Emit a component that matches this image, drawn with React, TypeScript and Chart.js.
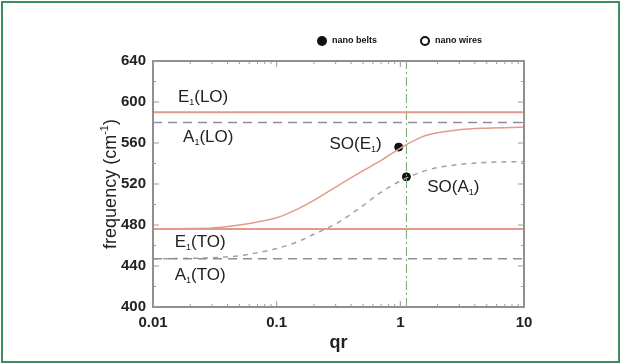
import React, { useEffect, useRef } from 'react';
import { Chart, registerables } from 'chart.js';

Chart.register(...registerables);

// Reduced wave vector qr sampled along the surface-optical phonon curves
const QR = [0.01, 0.02, 0.03, 0.05, 0.07, 0.1, 0.15, 0.2, 0.3, 0.5, 0.7, 1, 1.5, 2, 3, 5, 10];
// SO(E1) branch, cm-1
const SO_E1 = [476, 476.5, 477, 480, 483, 487, 496, 504, 517, 533, 543, 555, 566, 570, 573, 574.5, 575.5];
// SO(A1) branch, cm-1
const SO_A1 = [447, 447.5, 448, 450, 453, 457, 464, 471, 481, 499, 512, 523, 532, 536, 539, 541, 542];

// Bulk phonon frequencies, cm-1
const E1_LO = 590;
const A1_LO = 580;
const E1_TO = 476;
const A1_TO = 447;

// Measured SO modes
const BELT_QR = [0.97];
const BELT_FREQ = [556];
const WIRE_QR = [1.12];
const WIRE_FREQ = [527];

// Vertical guide at qr of the wires
const GUIDE_QR = 1.12;

const X_TICKS = [0.01, 0.1, 1, 10];
const X_TICK_LABELS = ['0.01', '0.1', '1', '10'];
const Y_MIN = 400;
const Y_MAX = 640;
const Y_STEP = 40;

const FONT = '"Liberation Sans", Arial, Helvetica, sans-serif';
const SALMON = '#e49a8a';
const GREY_DASH = '#8e8e96';
const AXIS = '#8f8f8f';

type Label = { main: string; sub: string; rest: string; qr: number; freq: number };
const MODE_LABELS: Label[] = [
  { main: 'E', sub: '1', rest: '(LO)', qr: 0.0159, freq: 605 },
  { main: 'A', sub: '1', rest: '(LO)', qr: 0.0175, freq: 566 },
  { main: 'SO(E', sub: '1', rest: ')', qr: 0.267, freq: 559 },
  { main: 'SO(A', sub: '1', rest: ')', qr: 1.65, freq: 517 },
  { main: 'E', sub: '1', rest: '(TO)', qr: 0.015, freq: 463.5 },
  { main: 'A', sub: '1', rest: '(TO)', qr: 0.015, freq: 431 },
];

function drawSubText(ctx: CanvasRenderingContext2D, x: number, y: number, l: Label, size: number) {
  ctx.textBaseline = 'middle';
  ctx.textAlign = 'left';
  ctx.font = `${size}px ${FONT}`;
  ctx.fillText(l.main, x, y);
  let cx = x + ctx.measureText(l.main).width;
  ctx.font = `${Math.round(size * 0.55)}px ${FONT}`;
  ctx.fillText(l.sub, cx, y + size * 0.32);
  cx += ctx.measureText(l.sub).width;
  ctx.font = `${size}px ${FONT}`;
  ctx.fillText(l.rest, cx, y);
}

const decorPlugin = {
  id: 'decor',
  beforeDraw(chart: any) {
    const ctx = chart.ctx;
    ctx.save();
    ctx.fillStyle = '#ffffff';
    ctx.fillRect(0, 0, chart.width, chart.height);
    ctx.restore();
  },
  afterDraw(chart: any) {
    const ctx: CanvasRenderingContext2D = chart.ctx;
    const { left, right, top, bottom } = chart.chartArea;
    const xs = chart.scales.x;
    const ys = chart.scales.y;
    ctx.save();

    // frame
    ctx.strokeStyle = AXIS;
    ctx.lineWidth = 2;
    ctx.strokeRect(left, top, right - left, bottom - top);

    // inward tick marks on all four sides
    ctx.lineWidth = 1;
    ctx.strokeStyle = '#9a9a9a';
    for (let d = -2; d <= 1; d++) {
      for (let k = 1; k <= 9; k++) {
        const v = k * Math.pow(10, d);
        if (v > 10.0001) continue;
        const px = xs.getPixelForValue(v);
        const len = k === 1 ? 6 : 3;
        ctx.beginPath();
        ctx.moveTo(px, bottom);
        ctx.lineTo(px, bottom - len);
        ctx.moveTo(px, top);
        ctx.lineTo(px, top + len);
        ctx.stroke();
      }
    }
    for (let v = Y_MIN; v <= Y_MAX; v += Y_STEP / 2) {
      const py = ys.getPixelForValue(v);
      const len = (v - Y_MIN) % Y_STEP === 0 ? 6 : 3;
      ctx.beginPath();
      ctx.moveTo(left, py);
      ctx.lineTo(left + len, py);
      ctx.moveTo(right, py);
      ctx.lineTo(right - len, py);
      ctx.stroke();
    }

    // mode labels
    ctx.fillStyle = '#222222';
    for (const l of MODE_LABELS) {
      drawSubText(ctx, xs.getPixelForValue(l.qr), ys.getPixelForValue(l.freq), l, 17);
    }

    // axis titles
    ctx.fillStyle = '#222222';
    ctx.textAlign = 'center';
    ctx.textBaseline = 'middle';
    ctx.font = `bold 18px ${FONT}`;
    ctx.fillText('qr', (left + right) / 2, 343);

    ctx.save();
    ctx.translate(111, (top + bottom) / 2);
    ctx.rotate(-Math.PI / 2);
    const big = `18px ${FONT}`;
    const small = `11px ${FONT}`;
    const t1 = 'frequency (cm';
    const t2 = '-1';
    const t3 = ')';
    ctx.font = big;
    const w1 = ctx.measureText(t1).width;
    const w3 = ctx.measureText(t3).width;
    ctx.font = small;
    const w2 = ctx.measureText(t2).width;
    const total = w1 + w2 + w3;
    ctx.textAlign = 'left';
    let cx = -total / 2;
    ctx.font = big;
    ctx.fillText(t1, cx, 0);
    cx += w1;
    ctx.font = small;
    ctx.fillText(t2, cx, -6);
    cx += w2;
    ctx.font = big;
    ctx.fillText(t3, cx, 0);
    ctx.restore();

    // legend
    ctx.fillStyle = '#111111';
    ctx.beginPath();
    ctx.arc(322, 41, 5, 0, Math.PI * 2);
    ctx.fill();
    ctx.strokeStyle = '#111111';
    ctx.lineWidth = 2;
    ctx.beginPath();
    ctx.arc(425, 41, 4, 0, Math.PI * 2);
    ctx.stroke();
    ctx.font = `bold 9px ${FONT}`;
    ctx.textAlign = 'left';
    ctx.textBaseline = 'middle';
    ctx.fillText('nano belts', 332, 41);
    ctx.fillText('nano wires', 435, 41);

    // outer border
    ctx.strokeStyle = '#3f8b62';
    ctx.lineWidth = 2;
    ctx.strokeRect(2, 2, chart.width - 4, chart.height - 4);

    ctx.restore();
  },
};

function hLine(y: number) {
  return [{ x: X_TICKS[0], y }, { x: X_TICKS[X_TICKS.length - 1], y }];
}

export default function App() {
  const canvasRef = useRef<HTMLCanvasElement | null>(null);

  useEffect(() => {
    const canvas = canvasRef.current;
    if (!canvas) return;
    const flat = { pointRadius: 0, pointHoverRadius: 0, fill: false };
    const chart = new Chart(canvas, {
      type: 'line',
      data: {
        datasets: [
          { ...flat, data: hLine(E1_LO), borderColor: SALMON, borderWidth: 2 },
          { ...flat, data: hLine(A1_LO), borderColor: GREY_DASH, borderWidth: 1.5, borderDash: [9, 6] },
          { ...flat, data: hLine(E1_TO), borderColor: SALMON, borderWidth: 2 },
          { ...flat, data: hLine(A1_TO), borderColor: GREY_DASH, borderWidth: 1.5, borderDash: [9, 6] },
          {
            ...flat,
            data: QR.map((q, i) => ({ x: q, y: SO_E1[i] })),
            borderColor: SALMON,
            borderWidth: 1.5,
            cubicInterpolationMode: 'monotone',
          },
          {
            ...flat,
            data: QR.map((q, i) => ({ x: q, y: SO_A1[i] })),
            borderColor: '#a0a0a6',
            borderWidth: 1.5,
            borderDash: [5, 5],
            cubicInterpolationMode: 'monotone',
          },
          {
            ...flat,
            data: [{ x: GUIDE_QR, y: Y_MIN }, { x: GUIDE_QR, y: Y_MAX }],
            borderColor: '#6aa86e',
            borderWidth: 1,
            borderDash: [9, 3, 2, 3],
          },
          {
            data: BELT_QR.map((q, i) => ({ x: q, y: BELT_FREQ[i] })),
            showLine: false,
            pointRadius: 4,
            pointBackgroundColor: '#111111',
            pointBorderColor: '#111111',
          },
          {
            data: WIRE_QR.map((q, i) => ({ x: q, y: WIRE_FREQ[i] })),
            showLine: false,
            pointRadius: 4,
            pointBackgroundColor: '#111111',
            pointBorderColor: '#111111',
          },
        ],
      },
      options: {
        animation: false,
        responsive: false,
        events: [],
        layout: { padding: { left: 0, top: 61, right: 97, bottom: 0 } },
        plugins: { legend: { display: false }, tooltip: { enabled: false } },
        scales: {
          x: {
            type: 'logarithmic',
            min: X_TICKS[0],
            max: X_TICKS[X_TICKS.length - 1],
            grid: { display: false, drawTicks: false },
            border: { display: false },
            afterBuildTicks: (s: any) => {
              s.ticks = X_TICKS.map((v) => ({ value: v }));
            },
            afterFit: (s: any) => {
              s.height = 57;
            },
            ticks: {
              autoSkip: false,
              maxRotation: 0,
              padding: 7,
              color: '#222222',
              font: { family: FONT, size: 15, weight: 'bold' },
              callback: (_v: any, i: number) => X_TICK_LABELS[i],
            },
          },
          y: {
            type: 'linear',
            min: Y_MIN,
            max: Y_MAX,
            grid: { display: false, drawTicks: false },
            border: { display: false },
            afterFit: (s: any) => {
              s.width = 153;
            },
            ticks: {
              stepSize: Y_STEP,
              padding: 7,
              color: '#222222',
              font: { family: FONT, size: 15, weight: 'bold' },
            },
          },
        },
      } as any,
      plugins: [decorPlugin],
    });
    return () => chart.destroy();
  }, []);

  return (
    <div style={{ position: 'fixed', left: 0, top: 0, width: 621, height: 364, background: '#fff' }}>
      <canvas ref={canvasRef} width={621} height={364} style={{ display: 'block', width: 621, height: 364 }} />
    </div>
  );
}
